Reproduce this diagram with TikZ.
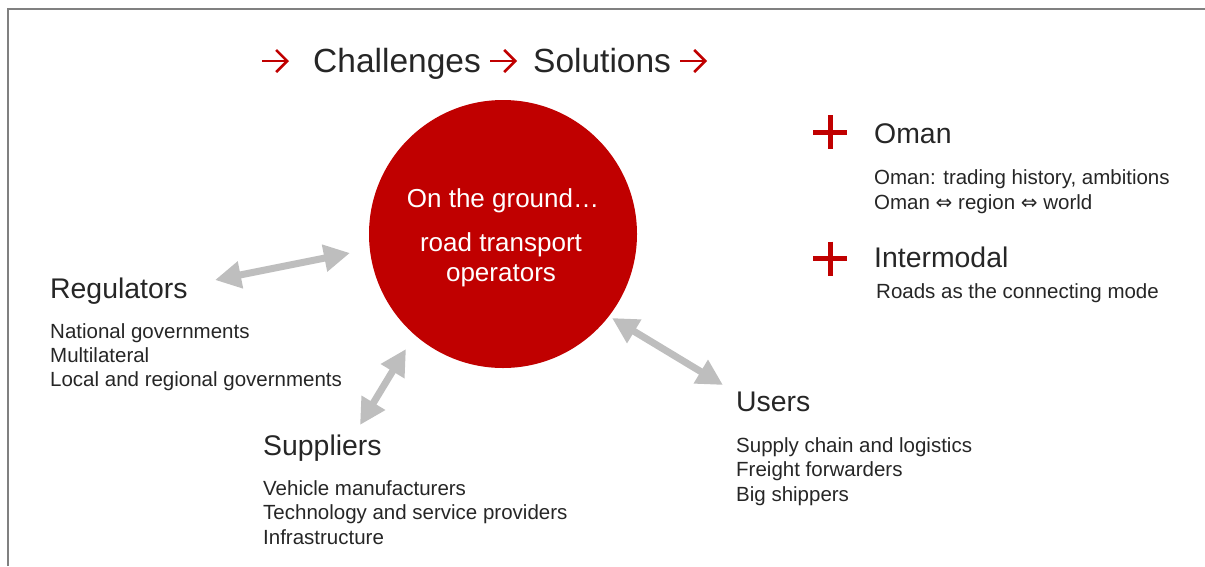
\documentclass[tikz,border=0pt]{standalone}
\usepackage{fontspec}
\setmainfont{Liberation Sans}
\newfontfamily\symfont{DejaVu Sans}
\usetikzlibrary{arrows.meta,positioning}
\definecolor{mRed}{RGB}{192,0,0}
\definecolor{mText}{RGB}{38,38,38}
\definecolor{mLink}{RGB}{190,190,190}
\definecolor{mFrame}{RGB}{128,128,128}

\begin{document}
\begin{tikzpicture}[x=1pt, y=-1pt,
    grouphead/.style={anchor=base west, inner sep=0pt, text=mText, font=\fontsize{28.4}{34}\selectfont},
    item/.style={anchor=base west, inner sep=0pt, text=mText, font=\fontsize{20.5}{24.5}\selectfont},
    headline/.style={anchor=base west, inner sep=0pt, text=mText, font=\fontsize{33.5}{40}\selectfont},
    hubtext/.style={anchor=base, inner sep=0pt, text=white, font=\fontsize{26}{31}\selectfont},
    link/.style={draw=mLink, line width=7pt, {Triangle[length=26pt,width=26pt]}-{Triangle[length=26pt,width=26pt]}},
    lead/.style={draw=mRed, line width=2.6pt, -{Straight Barb[length=11pt,width=22pt]}},
    redplus/.style={draw=mRed, line width=5pt}]
    \useasboundingbox (0,0) rectangle (1205,566);
    % frame
    \draw[mFrame, line width=1.3pt] (8,566) -- (8,9) -- (1205,9);
    % title row
    \node[headline] (chal) at (313,72) {Challenges};
    \node[headline] (sol) at (533,72) {Solutions};
    \draw[lead] (262,61) -- (289,61);
    \draw[lead] (490,61) -- (517,61);
    \draw[lead] (680,61) -- (707,61);
    % the operators in the middle
    \node[circle, fill=mRed, minimum size=268pt, inner sep=0pt] (hub) at (503,234) {};
    \node[hubtext] (hubtop) at (503,207) {On the ground…};
    \node[hubtext] (hubmid) at (501,251) {road transport};
    \node[hubtext] (hubbot) at (501,281) {operators};
    % regulators
    \node[grouphead] (reg) at (50,298.5) {Regulators};
    \foreach \t [count=\i from 0] in {National governments, Multilateral, Local and regional governments}
      \node[item] (reg\i) at (50, 338+24.4*\i) {\t};
    % suppliers
    \node[grouphead] (sup) at (263,455) {Suppliers};
    \foreach \t [count=\i from 0] in {Vehicle manufacturers, Technology and service providers, Infrastructure}
      \node[item] (sup\i) at (263, 495.5+24.3*\i) {\t};
    % users
    \node[grouphead] (usr) at (736,411.5) {Users};
    \foreach \t [count=\i from 0] in {Supply chain and logistics, Freight forwarders, Big shippers}
      \node[item] (usr\i) at (736, 452+24.5*\i) {\t};
    % two-way links to the hub
    \coordinate (regA) at (215,280);
    \coordinate (regB) at (350,253);
    \coordinate (supA) at (360,425);
    \coordinate (supB) at (406,349);
    \coordinate (usrA) at (612,318);
    \coordinate (usrB) at (723,385);
    \draw[link] (regA) -- (regB);
    \draw[link] (supA) -- (supB);
    \draw[link] (usrA) -- (usrB);
    % Oman
    \draw[redplus] (813,132) -- (847,132) (830,115) -- (830,149);
    \node[grouphead] (oman) at (874,143.5) {Oman};
    \node[item] (oman0) at (874,184) {Oman: trading history, ambitions};
    \node[item] (oman1) at (874,209) {Oman {\symfont\fontsize{20}{24}\selectfont ⇔} region {\symfont\fontsize{20}{24}\selectfont ⇔} world};
    % intermodal
    \draw[redplus] (813,258.5) -- (847,258.5) (830,241.5) -- (830,275.5);
    \node[grouphead] (imod) at (874,267.5) {Intermodal};
    \node[item] (imod0) at (876,298.5) {Roads as the connecting mode};
\end{tikzpicture}
\end{document}
